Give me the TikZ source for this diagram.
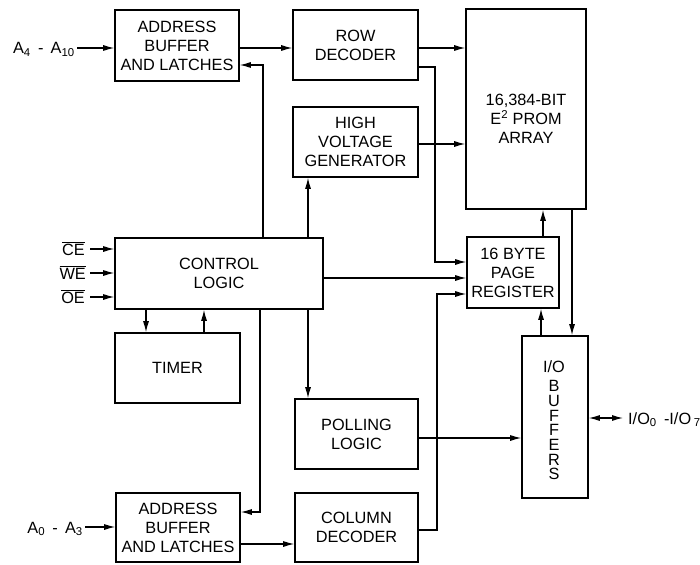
\documentclass[tikz,border=0pt]{standalone}
\usepackage{fontspec}
\setmainfont{Liberation Sans}
\usetikzlibrary{arrows.meta}
\begin{document}
\begin{tikzpicture}[x=1pt,y=-1pt,
  blk/.style={draw,line width=1.6pt,align=center,inner sep=0pt,font=\fontsize{16.3}{19}\selectfont},
  txt/.style={align=center,inner sep=0pt,font=\fontsize{16.3}{19}\selectfont},
  lbl/.style={inner sep=0pt,font=\fontsize{16.3}{19}\selectfont},
  con/.style={line width=1.1pt,-{Latex[length=11pt,width=6pt]}},
  dcon/.style={line width=1.1pt,{Latex[length=11pt,width=6pt]}-{Latex[length=11pt,width=6pt]}}]
\useasboundingbox (0,0) rectangle (700,564);

% blocks
\node[blk,minimum width=124pt,minimum height=71pt] (abt) at (177,45.5) {ADDRESS\\BUFFER\\AND LATCHES};
\node[blk,minimum width=125pt,minimum height=70pt] (row) at (355.5,45) {ROW\\DECODER};
\node[blk,minimum width=125pt,minimum height=70pt] (hv) at (355.5,142) {HIGH\\VOLTAGE\\GENERATOR};
\node[blk,minimum width=120pt,minimum height=200pt] (arr) at (526,109) {};
\node[txt] (arrtxt) at (526,119) {16,384-BIT\\E\textsuperscript{2} PROM\\ARRAY};
\node[blk,minimum width=208pt,minimum height=71pt] (cl) at (219,273.5) {CONTROL\\LOGIC};
\node[blk,minimum width=92pt,minimum height=71pt] (pr) at (513,272.5) {16 BYTE\\PAGE\\REGISTER};
\node[blk,minimum width=125pt,minimum height=70pt] (tim) at (177.5,368) {TIMER};
\node[blk,minimum width=66pt,minimum height=162pt] (io) at (555,417) {};
\node[align=center,inner sep=0pt,font=\fontsize{16.3}{14.7}\selectfont] (iotxt) at (554,420.5) {I/O\\[4.3pt]B\\U\\F\\F\\E\\R\\S};
\node[blk,minimum width=123pt,minimum height=70pt] (pol) at (356.5,434) {POLLING\\LOGIC};
\node[blk,minimum width=123pt,minimum height=69pt] (col) at (356.5,527.5) {COLUMN\\DECODER};
\node[blk,minimum width=124pt,minimum height=69pt] (abb) at (178,527.5) {ADDRESS\\BUFFER\\AND LATCHES};

% labels
\node[lbl,anchor=base east] (a4) at (75,54) {A\textsubscript{4} \,-\, A\textsubscript{10}};
\node[lbl,anchor=base east] (a0) at (83,533) {A\textsubscript{0} \,-\, A\textsubscript{3}};
\node[lbl,anchor=base east] (ce) at (85,255) {$\overline{\mbox{CE}}$};
\node[lbl,anchor=base east] (we) at (86,279) {$\overline{\mbox{WE}}$};
\node[lbl,anchor=base east] (oe) at (85,303) {$\overline{\mbox{OE}}$};
\node[lbl,anchor=base west] (iol) at (628,424) {I/O\textsubscript{0} \,-I/O\,\textsubscript{7}};

\coordinate (a4s) at (77,48);
\coordinate (a0s) at (85,527);
\coordinate (ces) at (90,249);
\coordinate (wes) at (90,273);
\coordinate (oes) at (90,297);
\coordinate (ios) at (623,418);

% connectors
\draw[con] (a4s) -- (abt.west |- a4s);
\draw[con] (a0s) -- (abb.west |- a0s);
\draw[con] (ces) -- (cl.west |- ces);
\draw[con] (wes) -- (cl.west |- wes);
\draw[con] (oes) -- (cl.west |- oes);
\draw[con] (abt.east |- 0,48) -- (row.west |- 0,48);
\draw[con] (row.east |- 0,48) -- (arr.west |- 0,48);
\draw[con] (row.east |- 0,67) -- (435,67) -- (435,262) -- (pr.west |- 0,262);
\draw[con] (hv.east |- 0,144) -- (arr.west |- 0,144);
\draw[con] (cl.north -| 263,0) -- (263,65) -- (abt.east |- 0,65);
\draw[con] (cl.north -| 308,0) -- (hv.south -| 308,0);
\draw[con] (cl.east |- 0,278) -- (pr.west |- 0,278);
\draw[con] (cl.south -| 146,0) -- (tim.north -| 146,0);
\draw[con] (tim.north -| 204,0) -- (cl.south -| 204,0);
\draw[con] (cl.south -| 260,0) -- (260,512) -- (abb.east |- 0,512);
\draw[con] (cl.south -| 308,0) -- (pol.north -| 308,0);
\draw[con] (pol.east |- 0,438) -- (io.west |- 0,438);
\draw[con] (col.east |- 0,530) -- (437,530) -- (437,294) -- (pr.west |- 0,294);
\draw[con] (abb.east |- 0,544) -- (col.west |- 0,544);
\draw[con] (pr.north -| 543,0) -- (arr.south -| 543,0);
\draw[con] (arr.south -| 572,0) -- (io.north -| 572,0);
\draw[con] (io.north -| 541,0) -- (pr.south -| 541,0);
\draw[dcon] (io.east |- ios) -- (ios);
\end{tikzpicture}
\end{document}
